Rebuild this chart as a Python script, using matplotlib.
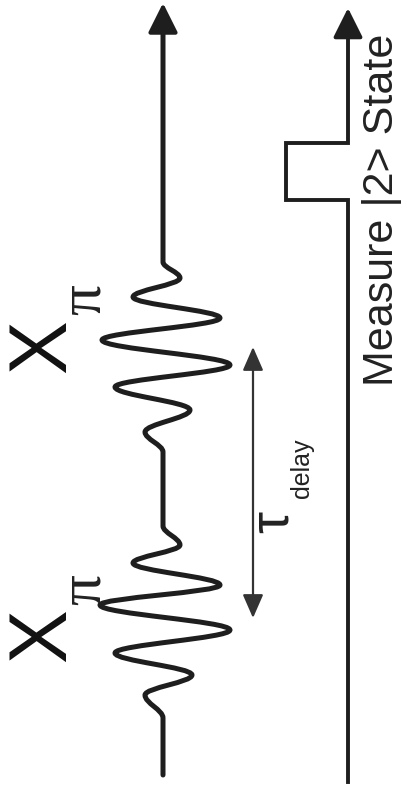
import matplotlib
matplotlib.use('Agg')
import matplotlib.pyplot as plt
from matplotlib.path import Path
from matplotlib.patches import PathPatch

# Drive line (X_pi pulses): time positions (pixel rows, bottom -> top) of the
# drawn extrema and the sideways excursion from the baseline at each of them
drive_t = [775, 718, 695, 675, 653, 630, 605, 585, 563, 545, 526,
           452, 432, 410, 387, 365, 340, 318, 297, 278, 262, 30]
drive_amp = [0, 0, -18, 29, -48, 67, -63, 57, -30, 17, 0,
             0, -18, 27, -48, 67, -61, 57, -30, 17, 0, 0]
drive_base = 163

# Readout line: edge times and level (pulse sticks out to the left)
meas_t = [782, 200, 143, 34]
meas_level = [0, 1, 0]
meas_base = 348
meas_height = 62

# Delay marker between the two pulses
delay_span = (618, 347)

pulse_labels = ['X', 'X']
pulse_label_t = [346, 635]
pulse_sub_t = [300, 590]

fig = plt.figure(figsize=(4.07, 7.95), dpi=100)
ax = fig.add_axes([0, 0, 1, 1])
ax.set_xlim(0, 407)
ax.set_ylim(795, 0)
ax.axis('off')

ink = '#1e1e1e'

# smooth drive waveform through the read-off extrema (vertical tangents)
k = 0.36
pts = [(drive_base + a, t) for a, t in zip(drive_amp, drive_t)]
verts = [pts[0]]
codes = [Path.MOVETO]
for (xa, ya), (xb, yb) in zip(pts[:-1], pts[1:]):
    dy = yb - ya
    verts += [(xa, ya + k * dy), (xb, yb - k * dy), (xb, yb)]
    codes += [Path.CURVE4] * 3
ax.add_patch(PathPatch(Path(verts, codes), fill=False, lw=3.6,
                       edgecolor=ink, capstyle='round', joinstyle='round'))
ax.annotate('', xy=(drive_base, 3), xytext=(drive_base, drive_t[-1] + 2),
            arrowprops=dict(arrowstyle='-|>,head_length=0.9,head_width=0.45',
                            mutation_scale=20, lw=3.0, color=ink,
                            shrinkA=0, shrinkB=0))

# readout step line
xs, ys = [], []
for i, lev in enumerate(meas_level):
    x = meas_base - lev * meas_height
    xs += [x, x]
    ys += [meas_t[i], meas_t[i + 1]]
ax.plot(xs, ys, color=ink, lw=2.8, solid_joinstyle='miter')
ax.annotate('', xy=(meas_base, 8), xytext=(meas_base, meas_t[-1] + 2),
            arrowprops=dict(arrowstyle='-|>,head_length=0.9,head_width=0.45',
                            mutation_scale=20, lw=2.8, color=ink,
                            shrinkA=0, shrinkB=0))

# tau_delay double arrow
ax.annotate('', xy=(253, delay_span[1]), xytext=(253, delay_span[0]),
            arrowprops=dict(arrowstyle='<|-|>,head_length=0.8,head_width=0.35',
                            mutation_scale=18, lw=1.6, color='#333333',
                            shrinkA=0, shrinkB=0))
ax.text(274, 522, '\u03c4', rotation=90, ha='center', va='center',
        fontsize=40, family=['Liberation Sans', 'DejaVu Sans'], color='#222222')
ax.text(302, 468, 'delay', rotation=90, ha='center', va='center',
        fontsize=18, family='Liberation Sans', color='#222222')

# X_pi labels
for lab, tx, ts in zip(pulse_labels, pulse_label_t, pulse_sub_t):
    ax.text(44, tx, lab, rotation=90, ha='center', va='center',
            fontsize=58, family='Liberation Sans', color='#111111')
    ax.text(85, ts, '\u03c0', rotation=90, ha='center', va='center',
            fontsize=44, family=['Liberation Serif', 'DejaVu Serif'],
            color='#222222')

ax.text(382, 210, 'Measure |2> State', rotation=90, ha='center', va='center',
        fontsize=31, family='Liberation Sans', color='#222222')

fig.savefig('out.png', dpi=100)
